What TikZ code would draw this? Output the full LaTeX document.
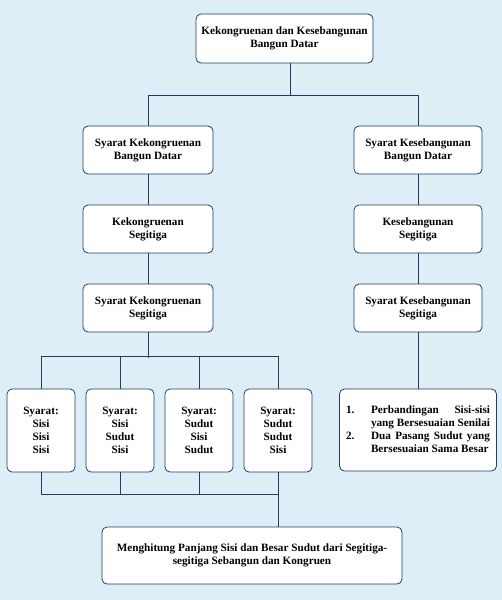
\documentclass[tikz,border=0pt]{standalone}
\usepackage{fontspec}
\setmainfont{Liberation Serif}
\usetikzlibrary{positioning}
\definecolor{latar}{RGB}{221,238,246}
\definecolor{garis}{RGB}{35,60,100}
\tikzstyle{kotak}=[draw=garis,fill=white,rounded corners=5pt,line width=0.8pt,align=center,inner sep=2pt,font=\bfseries\fontsize{11.2}{13}\selectfont]
\tikzstyle{hubung}=[draw=garis,line width=0.8pt]

\begin{document}
\begin{tikzpicture}[x=1pt,y=-1pt,node distance=79pt]
  \fill[latar] (0,0) rectangle (502,600);
  \useasboundingbox (0,0) rectangle (502,600);

  \node[kotak,minimum width=177pt,minimum height=49pt] (atas) at (284.5,38.5) {Kekongruenan dan Kesebangunan\\Bangun Datar};

  % kolom kiri
  \node[kotak,minimum width=130pt,minimum height=48pt] (k1) at (148,150) {Syarat Kekongruenan\\Bangun Datar};
  \node[kotak,minimum width=130pt,minimum height=48pt] (k2) [below of=k1] {Kekongruenan\\Segitiga};
  \node[kotak,minimum width=130pt,minimum height=48pt] (k3) [below of=k2] {Syarat Kekongruenan\\Segitiga};

  % kolom kanan
  \node[kotak,minimum width=128pt,minimum height=48pt] (n1) at (418,150) {Syarat Kesebangunan\\Bangun Datar};
  \node[kotak,minimum width=128pt,minimum height=48pt] (n2) [below of=n1] {Kesebangunan\\Segitiga};
  \node[kotak,minimum width=128pt,minimum height=48pt] (n3) [below of=n2] {Syarat Kesebangunan\\Segitiga};
  \node[kotak,minimum width=157pt,minimum height=82pt] (daftar) at (418,430) {%
    \begin{tabular}{@{}l@{}l@{}}
      \makebox[25pt][l]{1.} & \makebox[119pt][s]{Perbandingan\hfill Sisi-sisi}\\
       & \makebox[119pt][s]{yang Bersesuaian Senilai}\\
      \makebox[25pt][l]{2.} & \makebox[119pt][s]{Dua Pasang Sudut yang}\\
       & \makebox[119pt][l]{Bersesuaian Sama Besar}
    \end{tabular}};

  % syarat
  \node[kotak,minimum width=68pt,minimum height=83pt] (s1) at (41,430.5) {Syarat:\\Sisi\\Sisi\\Sisi};
  \node[kotak,minimum width=68pt,minimum height=83pt] (s2) [right of=s1] {Syarat:\\Sisi\\Sudut\\Sisi};
  \node[kotak,minimum width=68pt,minimum height=83pt] (s3) [right of=s2] {Syarat:\\Sudut\\Sisi\\Sudut};
  \node[kotak,minimum width=68pt,minimum height=83pt] (s4) [right of=s3] {Syarat:\\Sudut\\Sudut\\Sisi};

  \node[kotak,minimum width=300pt,minimum height=57pt] (bawah) at (252,555.5) {Menghitung Panjang Sisi dan Besar Sudut dari Segitiga-\\segitiga Sebangun dan Kongruen};

  \draw[hubung] ([xshift=5.5pt]atas.south) -- ++(0,33);
  \draw[hubung] (k1.north) -- ++(0,-30) -| (n1.north);
  \draw[hubung] (k1) -- (k2) (k2) -- (k3);
  \draw[hubung] (n1) -- (n2) (n2) -- (n3) (n3) -- (daftar);
  \draw[hubung] (k3.south) -- ++(0,26);
  \draw[hubung] (s1.north) -- ++(0,-32) -| (s4.north);
  \draw[hubung] (s2.north) -- ++(0,-32) (s3.north) -- ++(0,-32);
  \draw[hubung] (s1.south) -- ++(0,22) -| (s4.south);
  \draw[hubung] (s2.south) -- ++(0,22) (s3.south) -- ++(0,22);
  \draw[hubung] (s4.south) -- (s4.south |- bawah.north);
\end{tikzpicture}
\end{document}
